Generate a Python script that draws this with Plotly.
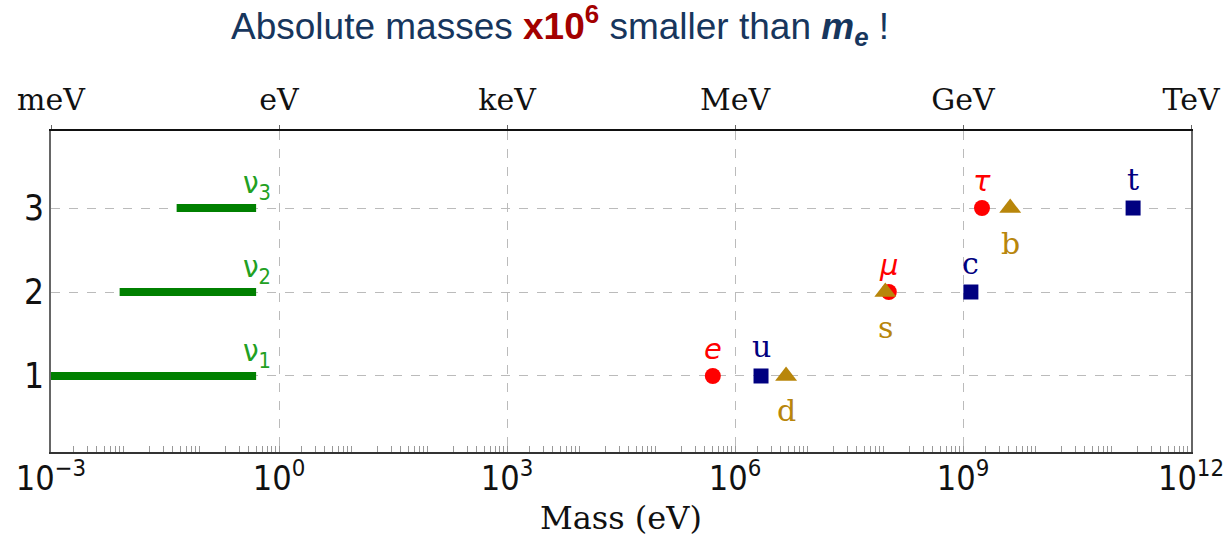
import plotly.graph_objects as go
import numpy as np

# ---- data ----
nu_names = ["ν<sub>1</sub>", "ν<sub>2</sub>", "ν<sub>3</sub>"]
nu_low = [1e-4, 0.008, 0.045]
nu_high = [0.5, 0.5, 0.5]
nu_gen = [1, 2, 3]

lep_names = ["e", "μ", "τ"]
lep_mass = [5.11e5, 1.057e8, 1.777e9]
lep_gen = [1, 2, 3]

up_names = ["u", "c", "t"]
up_mass = [2.2e6, 1.27e9, 1.73e11]
up_gen = [1, 2, 3]

down_names = ["d", "s", "b"]
down_mass = [4.7e6, 9.5e7, 4.18e9]
down_gen = [1, 2, 3]

major_exp = [-3, 0, 3, 6, 9, 12]
bottom_labels = ["10<sup>−3</sup>", "10<sup>0</sup>", "10<sup>3</sup>", "10<sup>6</sup>", "10<sup>9</sup>", "10<sup>12</sup>"]
top_labels = ["meV", "eV", "keV", "MeV", "GeV", "TeV"]
y_ticks = [1, 2, 3]

GREEN = "#008000"
GREEN_T = "#22a022"
RED = "#ff0000"
NAVY = "#000080"
GOLD = "#b8860b"
SANS = "DejaVu Sans Condensed, DejaVu Sans"
SERIF = "DejaVu Serif"

fig = go.Figure()
annots = []

for lo, hi, g, nm in zip(nu_low, nu_high, nu_gen, nu_names):
    fig.add_trace(go.Scatter(x=[lo, hi], y=[g, g], mode="lines",
                             line=dict(color=GREEN, width=8), hoverinfo="skip"))
    annots.append(dict(x=np.log10(hi), y=g, xref="x", yref="y", text=nm, showarrow=False,
                       xanchor="center", yanchor="bottom", xshift=1, yshift=1,
                       font=dict(family=SANS, size=31, color=GREEN_T)))

fig.add_trace(go.Scatter(x=lep_mass, y=lep_gen, mode="markers",
                         marker=dict(symbol="circle", size=16, color=RED)))
fig.add_trace(go.Scatter(x=up_mass, y=up_gen, mode="markers",
                         marker=dict(symbol="square", size=15, color=NAVY)))
fig.add_trace(go.Scatter(x=down_mass, y=down_gen, mode="markers",
                         marker=dict(symbol="triangle-up", size=19, color=GOLD)))

for m, g, nm in zip(lep_mass, lep_gen, lep_names):
    annots.append(dict(x=np.log10(m), y=g, xref="x", yref="y", text="<i>%s</i>" % nm,
                       showarrow=False, xanchor="center", yanchor="middle", yshift=27,
                       font=dict(family="DejaVu Sans", size=29, color=RED)))
for m, g, nm in zip(up_mass, up_gen, up_names):
    annots.append(dict(x=np.log10(m), y=g, xref="x", yref="y", text=nm,
                       showarrow=False, xanchor="center", yanchor="middle", yshift=29,
                       font=dict(family=SERIF, size=30, color=NAVY)))
for m, g, nm in zip(down_mass, down_gen, down_names):
    annots.append(dict(x=np.log10(m), y=g, xref="x", yref="y", text=nm,
                       showarrow=False, xanchor="center", yanchor="middle", yshift=-35,
                       font=dict(family=SERIF, size=30, color=GOLD)))

# invisible trace on top axis
fig.add_trace(go.Scatter(x=[10.0 ** major_exp[0], 10.0 ** major_exp[-1]], y=[1, 1],
                         xaxis="x2", mode="markers", marker=dict(opacity=0),
                         hoverinfo="skip"))

minor_vals = [k * 10.0 ** n for n in range(major_exp[0], major_exp[-1]) for k in range(2, 10)]
xr = [major_exp[0], major_exp[-1]]

annots.append(dict(
    xref="paper", yref="paper", x=0.4465, y=1.0, yshift=106, xanchor="center", yanchor="middle",
    showarrow=False,
    text="Absolute masses <b><span style='color:#a30000'>x10<sup>6</sup></span></b> smaller than <b><i>m<sub>e</sub></i></b> !",
    font=dict(family="Liberation Sans, Arial", size=37, color="#17365d")))
annots.append(dict(
    xref="paper", yref="paper", x=0.5, y=0, yshift=-66, xanchor="center", yanchor="middle",
    showarrow=False, text="Mass (eV)", font=dict(family=SERIF, size=32, color="#111")))

fig.update_layout(
    width=1224, height=539,
    margin=dict(l=51, r=33, t=131, b=87),
    plot_bgcolor="white", paper_bgcolor="white",
    showlegend=False,
    xaxis=dict(type="log", range=xr, automargin=False, ticklabeloverflow="allow",
               tickvals=[10.0 ** e for e in major_exp], ticktext=bottom_labels,
               tickfont=dict(family=SANS, size=34, color="#111"),
               ticks="inside", ticklen=6, tickcolor="#999", ticklabelstandoff=-5,
               showgrid=True, gridcolor="#bbbbbb", griddash="dash", gridwidth=1,
               showline=True, linecolor="#333", linewidth=2,
               zeroline=False,
               minor=dict(tickvals=minor_vals, ticks="inside", ticklen=6,
                          tickcolor="#999", showgrid=False)),
    xaxis2=dict(type="log", range=xr, overlaying="x", side="top", automargin=False,
                ticklabeloverflow="allow",
                tickvals=[10.0 ** e for e in major_exp], ticktext=top_labels,
                tickfont=dict(family=SERIF, size=30, color="#111"),
                ticks="outside", ticklen=4, tickcolor="#666", ticklabelstandoff=3,
                showgrid=False, showline=True, linecolor="#111", linewidth=2,
                zeroline=False),
    yaxis=dict(range=[0.095, 3.917], tickvals=y_ticks, automargin=False,
               tickfont=dict(family=SANS, size=35, color="#111"), ticklabelstandoff=-2,
               ticks="", showgrid=True, gridcolor="#bbbbbb", griddash="dash", gridwidth=1,
               showline=True, linecolor="#666", linewidth=2, mirror=True,
               zeroline=False),
    annotations=annots,
)

fig.write_html("out.html")
